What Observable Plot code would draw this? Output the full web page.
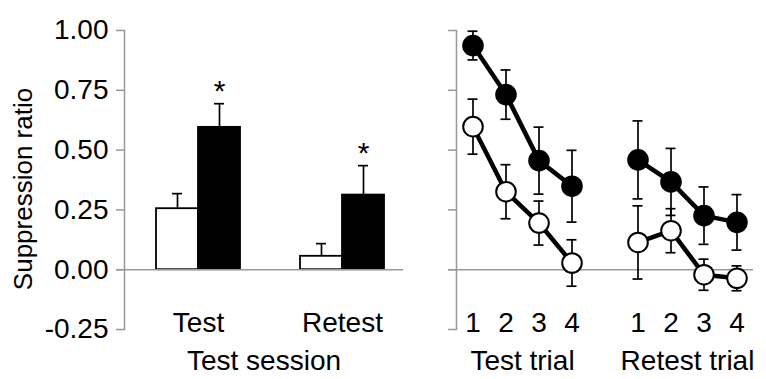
<!DOCTYPE html>
<html><head><meta charset="utf-8">
<script src="https://cdn.jsdelivr.net/npm/d3@7"></script>
<script src="https://cdn.jsdelivr.net/npm/@observablehq/plot@0.6"></script>
<style>
html,body{margin:0;padding:0;background:#fff;}
#chart{display:flex;width:766px;height:379px;}
#chart svg{display:block;}
</style></head><body><div id="chart"></div>
<script>
// ---- data ----
const sessions = ["Test", "Retest"];
const groups = ["Control", "Paired"];
const controlMeans = [0.255, 0.056];
const controlSEM = [0.063, 0.053];
const pairedMeans = [0.595, 0.312];
const pairedSEM = [0.099, 0.123];
const significant = ["*", "*"];

const trials = [1, 2, 3, 4];
const trialSessions = ["Test trial", "Retest trial"];
const controlTestTrials = [0.598, 0.326, 0.195, 0.028];
const controlTestSEM = [0.115, 0.113, 0.092, 0.097];
const pairedTestTrials = [0.937, 0.732, 0.456, 0.349];
const pairedTestSEM = [0.06, 0.103, 0.14, 0.15];
const controlRetestTrials = [0.114, 0.163, -0.021, -0.036];
const controlRetestSEM = [0.153, 0.092, 0.065, 0.052];
const pairedRetestTrials = [0.459, 0.367, 0.226, 0.198];
const pairedRetestSEM = [0.163, 0.14, 0.12, 0.116];

const yTicks = [1.00, 0.75, 0.50, 0.25, 0.00, -0.25];
const yLabel = "Suppression ratio";
const xLabelLeft = "Test session";

// ---- tables ----
const barRows = [];
sessions.forEach((s, i) => {
  barRows.push({session: s, group: groups[0], mean: controlMeans[i], sem: controlSEM[i], sig: ""});
  barRows.push({session: s, group: groups[1], mean: pairedMeans[i], sem: pairedSEM[i], sig: significant[i]});
});
const trialSeries = [
  [trialSessions[0], groups[0], controlTestTrials, controlTestSEM],
  [trialSessions[0], groups[1], pairedTestTrials, pairedTestSEM],
  [trialSessions[1], groups[0], controlRetestTrials, controlRetestSEM],
  [trialSessions[1], groups[1], pairedRetestTrials, pairedRetestSEM]
];
const trialRows = [];
trialSeries.forEach(([sess, grp, means, sems]) => {
  const si = trialSessions.indexOf(sess);
  trials.forEach((t, j) => {
    trialRows.push({session: sess, group: grp, trial: t, pos: si * (trials.length + 1) + t, mean: means[j], sem: sems[j]});
  });
});
const tickPos = [];
trialSessions.forEach((s, si) => trials.forEach(t => tickPos.push(si * (trials.length + 1) + t)));
const groupCenters = trialSessions.map((s, si) => si * (trials.length + 1) + d3.mean(trials));

// ---- layout / style ----
const font = "'Liberation Sans', Arial, sans-serif";
const FS = 28;
const H = 379, MT = 30, MB = 50;
const BW = 84, half = BW / 2;
const gray = "#999";
const style = {fontFamily: font, fontSize: FS + "px", color: "black", background: "white", overflow: "visible"};
const isC = d => d.group === groups[0];
const isP = d => d.group === groups[1];

const left = Plot.plot({
  width: 430, height: H, marginLeft: 124, marginRight: 27, marginTop: MT, marginBottom: MB,
  style,
  x: {type: "band", domain: sessions, paddingInner: 0.4187, paddingOuter: 0.1747, align: 0.624, axis: null, label: null},
  y: {domain: [-0.25, 1], axis: null, label: null},
  marks: [
    Plot.barY(barRows.filter(isC), {x: "session", y: "mean", fill: "white", stroke: "black", strokeWidth: 1.8, insetRight: half}),
    Plot.barY(barRows.filter(isP), {x: "session", y: "mean", fill: "black", stroke: "black", strokeWidth: 1.8, insetLeft: half}),
    Plot.ruleX(barRows.filter(isC), {x: "session", y1: "mean", y2: d => d.mean + d.sem, dx: -half / 2, strokeWidth: 1.7}),
    Plot.ruleX(barRows.filter(isP), {x: "session", y1: "mean", y2: d => d.mean + d.sem, dx: half / 2, strokeWidth: 1.7}),
    Plot.tickY(barRows.filter(isC), {x: "session", y: d => d.mean + d.sem, insetLeft: 16, insetRight: BW - 26, strokeWidth: 1.7}),
    Plot.tickY(barRows.filter(isP), {x: "session", y: d => d.mean + d.sem, insetLeft: BW - 26, insetRight: 16, strokeWidth: 1.7}),
    Plot.text(barRows.filter(isP), {x: "session", y: d => d.mean + d.sem, text: "sig", dx: half / 2, dy: -3, lineAnchor: "bottom", fontSize: 30}),
    Plot.ruleY([0], {stroke: gray, strokeWidth: 1.5, insetLeft: -8}),
    Plot.frame({anchor: "left", stroke: gray, strokeWidth: 1.5}),
    Plot.axisY({ticks: yTicks, tickSize: 8, tickPadding: 8, tickFormat: d => d.toFixed(2), stroke: gray, strokeWidth: 1.5, fill: "black", label: null}),
    Plot.axisX({tickSize: 0, tickPadding: 0, dy: -17, fill: "black", label: null}),
    Plot.text([xLabelLeft], {frameAnchor: "bottom", lineAnchor: "top", dy: 21, text: d => d, fontSize: FS}),
    Plot.text([yLabel], {frameAnchor: "left", textAnchor: "middle", rotate: -90, lineAnchor: "top", dx: -111, dy: 9, text: d => d, fontSize: 26})
  ]
});

const lo = d => d.mean - d.sem, hi = d => d.mean + d.sem;
const right = Plot.plot({
  width: 336, height: H, marginLeft: 26, marginRight: 13, marginTop: MT, marginBottom: MB,
  style,
  x: {domain: [0.5, 9.5], axis: null, label: null},
  y: {domain: [-0.25, 1], axis: null, label: null},
  marks: [
    Plot.ruleY([0], {stroke: gray, strokeWidth: 1.5, insetLeft: -8}),
    Plot.frame({anchor: "left", stroke: gray, strokeWidth: 1.5}),
    Plot.axisY({ticks: yTicks, tickSize: 8, tickFormat: () => "", stroke: gray, strokeWidth: 1.5, label: null}),
    Plot.ruleX(trialRows, {x: "pos", y1: lo, y2: hi, strokeWidth: 1.7}),
    Plot.ruleY(trialRows, {y: lo, x1: "pos", x2: "pos", insetLeft: -5, insetRight: -5, strokeWidth: 1.7}),
    Plot.ruleY(trialRows, {y: hi, x1: "pos", x2: "pos", insetLeft: -5, insetRight: -5, strokeWidth: 1.7}),
    Plot.line(trialRows, {x: "pos", y: "mean", z: d => d.session + d.group, stroke: "black", strokeWidth: 4.5}),
    Plot.dot(trialRows.filter(isC), {x: "pos", y: "mean", r: 9.8, fill: "white", stroke: "black", strokeWidth: 2}),
    Plot.dot(trialRows.filter(isP), {x: "pos", y: "mean", r: 9.8, fill: "black", stroke: "black", strokeWidth: 2}),
    Plot.axisX({ticks: tickPos, tickFormat: p => trials[(p - 1) % (trials.length + 1)], tickSize: 0, tickPadding: 0, dy: -17, fill: "black", label: null}),
    Plot.axisX({ticks: groupCenters, tickFormat: c => trialSessions[groupCenters.indexOf(c)], tickSize: 0, tickPadding: 0, dy: 21, fill: "black", label: null})
  ]
});

document.getElementById("chart").append(left, right);
</script></body></html>
